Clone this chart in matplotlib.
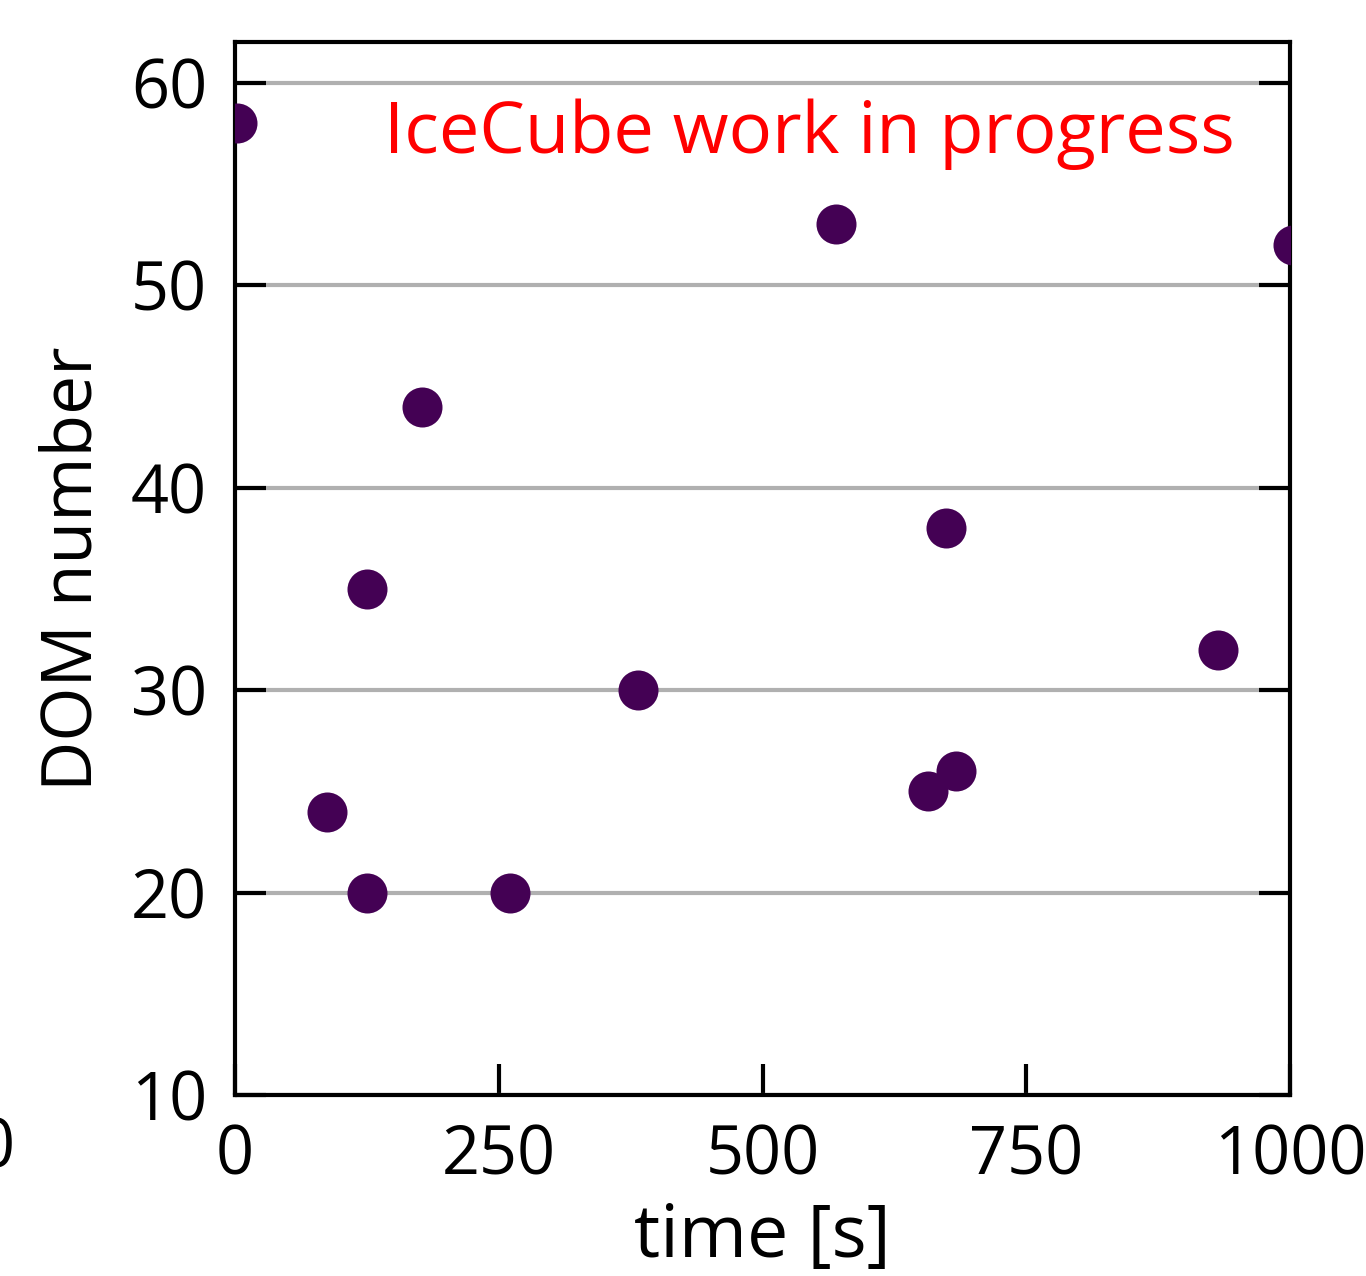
import matplotlib
matplotlib.use("Agg")
import matplotlib.pyplot as plt

time_s = [2, 87, 125, 125, 177, 261, 382, 570, 657, 674, 683, 932, 1003]
dom_number = [58, 24, 20, 35, 44, 20, 30, 53, 25, 38, 26, 32, 52]
x_ticks = [0, 250, 500, 750, 1000]
y_ticks = [10, 20, 30, 40, 50, 60]

plt.rcParams['font.family'] = ['Open Sans', 'DejaVu Sans']
FS = 48

fig = plt.figure(figsize=(13.66, 12.76), dpi=100)
ax = fig.add_axes([235/1366, 1 - 1095/1276, (1290-235)/1366, (1095-42)/1276])

ax.scatter(time_s, dom_number, s=830, color='#440154', zorder=3, linewidths=0)
ax.set_xlim(0, 1000)
ax.set_ylim(10, 62)
ax.set_xticks(x_ticks)
ax.set_yticks(y_ticks)
ax.yaxis.grid(True, color='#b0b0b0', linewidth=3, zorder=0)
ax.set_axisbelow(True)
ax.tick_params(axis='both', direction='in', length=22, width=3, labelsize=FS)
ax.tick_params(axis='x', pad=20, top=False)
ax.tick_params(axis='y', pad=20, right=True, left=True)
for sp in ax.spines.values():
    sp.set_linewidth(3)
ax.set_xlabel('time [s]', fontsize=53, labelpad=8)
ax.set_ylabel('DOM number', fontsize=50, labelpad=16)
ax.text(0.948, 0.8946, 'IceCube work in progress', color='red', fontsize=52,
        ha='right', va='baseline', transform=ax.transAxes)
fig.text(15/1366, 1 - 1150/1276, '0', fontsize=FS, ha='right', va='center')

fig.savefig('out.png', dpi=100)
